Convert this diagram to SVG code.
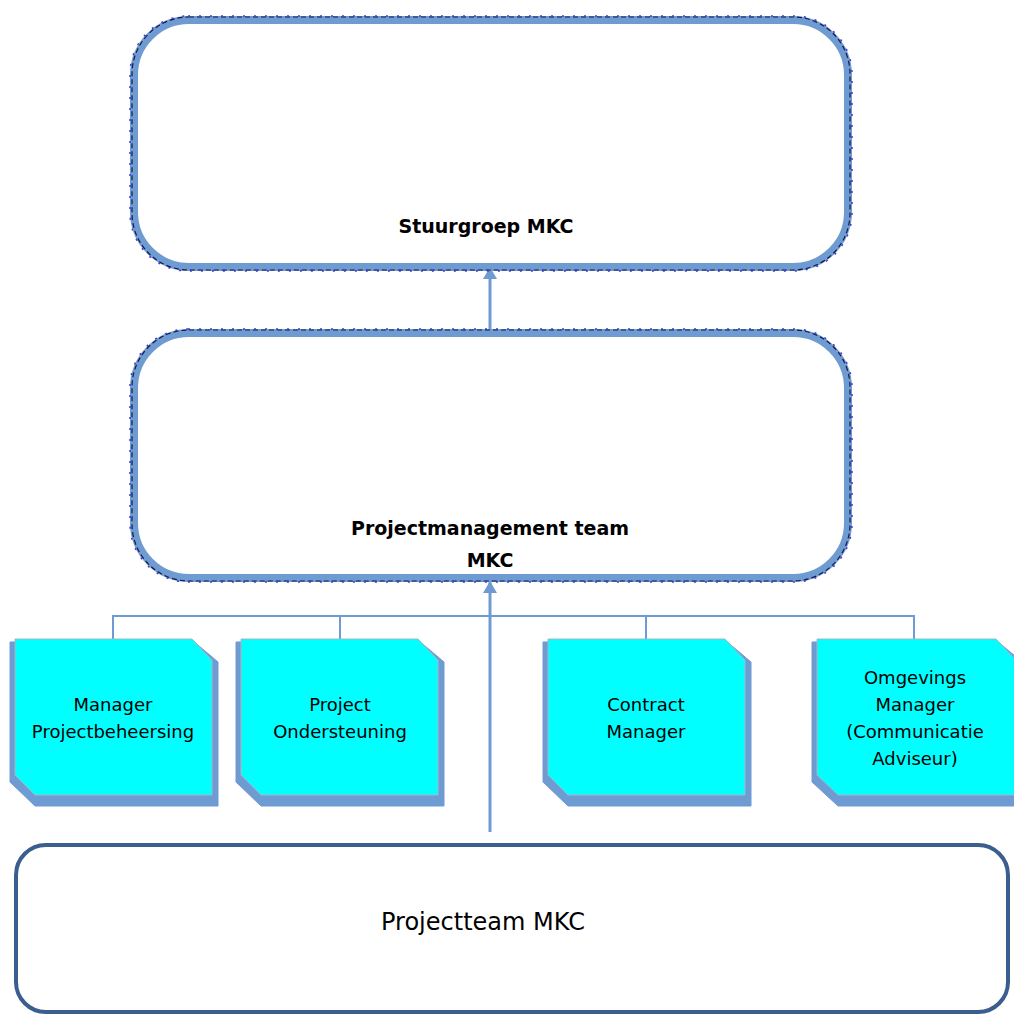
<svg xmlns="http://www.w3.org/2000/svg" width="1014" height="1014" viewBox="0 0 1014 1014">
<style>
.big{fill:#fff;stroke:#6f9bd3;stroke-width:8}
.dash{fill:none;stroke:#1a1a40;stroke-width:1.2;stroke-dasharray:5 3}
.dots{fill:none;stroke:#3a3ae0;stroke-width:1.5;stroke-dasharray:2 9}
.face{fill:#00ffff;stroke:#a8b4c4;stroke-width:1}
.shadow{fill:#6f9bd3;stroke:#6f9bd3;stroke-width:1}
.lbl{font-family:"DejaVu Sans",sans-serif;font-size:18px;fill:#000;text-anchor:middle}
.bold{font-family:"DejaVu Sans",sans-serif;font-size:19px;font-weight:bold;fill:#000;text-anchor:middle}
.conn{stroke:#6f9bd3;fill:none}
</style>
<defs>
<marker id="ah" viewBox="0 0 12 14" refX="11" refY="7" markerWidth="12" markerHeight="14" markerUnits="userSpaceOnUse" orient="auto">
<path d="M0,0 L12,7 L0,14 Z" fill="#6f9bd3"/>
</marker>
</defs>
<g id="connectors">
<line class="conn" stroke-width="3" x1="490" y1="331" x2="490" y2="268" marker-end="url(#ah)"/>
<line class="conn" stroke-width="3" x1="490" y1="832" x2="490" y2="582" marker-end="url(#ah)"/>
<polyline class="conn" stroke-width="2" points="113,640 113,616 914,616 914,640"/>
<line class="conn" stroke-width="2" x1="340" y1="616" x2="340" y2="640"/>
<line class="conn" stroke-width="2" x1="646" y1="616" x2="646" y2="640"/>
</g>
<g id="stuurgroep">
<rect class="big" x="134" y="20" width="714" height="247" rx="55"/>
<rect class="dash" x="132" y="17" width="718" height="253" rx="57"/>
<rect class="dots" x="130" y="16" width="722" height="255" rx="58"/>
<text class="bold" x="486" y="233">Stuurgroep MKC</text>
</g>
<g id="pmt">
<rect class="big" x="134" y="333" width="714" height="245" rx="55"/>
<rect class="dash" x="132" y="330" width="718" height="251" rx="57"/>
<rect class="dots" x="130" y="329" width="722" height="253" rx="58"/>
<text class="bold" x="490" y="535">Projectmanagement team</text>
<text class="bold" x="490" y="567">MKC</text>
</g>
<g id="manager-projectbeheersing">
<polygon class="shadow" points="10,642 192,640 218,662 218,806 35,806 10,782"/>
<polygon class="face" points="15,639 192,639 212,660 212,795 35,795 15,775"/>
<text class="lbl" x="113" y="711">Manager</text>
<text class="lbl" x="113" y="738">Projectbeheersing</text>
</g>
<g id="project-ondersteuning">
<polygon class="shadow" points="236,642 418,640 444,662 444,806 261,806 236,782"/>
<polygon class="face" points="241,639 418,639 438,660 438,795 261,795 241,775"/>
<text class="lbl" x="340" y="711">Project</text>
<text class="lbl" x="340" y="738">Ondersteuning</text>
</g>
<g id="contract-manager">
<polygon class="shadow" points="543,642 725,640 751,662 751,806 568,806 543,782"/>
<polygon class="face" points="548,639 725,639 745,660 745,795 568,795 548,775"/>
<text class="lbl" x="646" y="711">Contract</text>
<text class="lbl" x="646" y="738">Manager</text>
</g>
<g id="omgevings-manager">
<polygon class="shadow" points="812,642 996,640 1022,662 1022,806 838,806 812,782"/>
<polygon class="face" points="817,639 996,639 1016,660 1016,795 838,795 817,775"/>
<text class="lbl" x="915" y="684">Omgevings</text>
<text class="lbl" x="915" y="711">Manager</text>
<text class="lbl" x="915" y="738">(Communicatie</text>
<text class="lbl" x="915" y="765">Adviseur)</text>
</g>
<g id="projectteam">
<rect x="16" y="845" width="992" height="167" rx="30" fill="#fff" stroke="#3a5f8f" stroke-width="4"/>
<text x="483" y="930" font-family="DejaVu Sans,sans-serif" font-size="24" fill="#000" text-anchor="middle">Projectteam MKC</text>
</g>
</svg>
